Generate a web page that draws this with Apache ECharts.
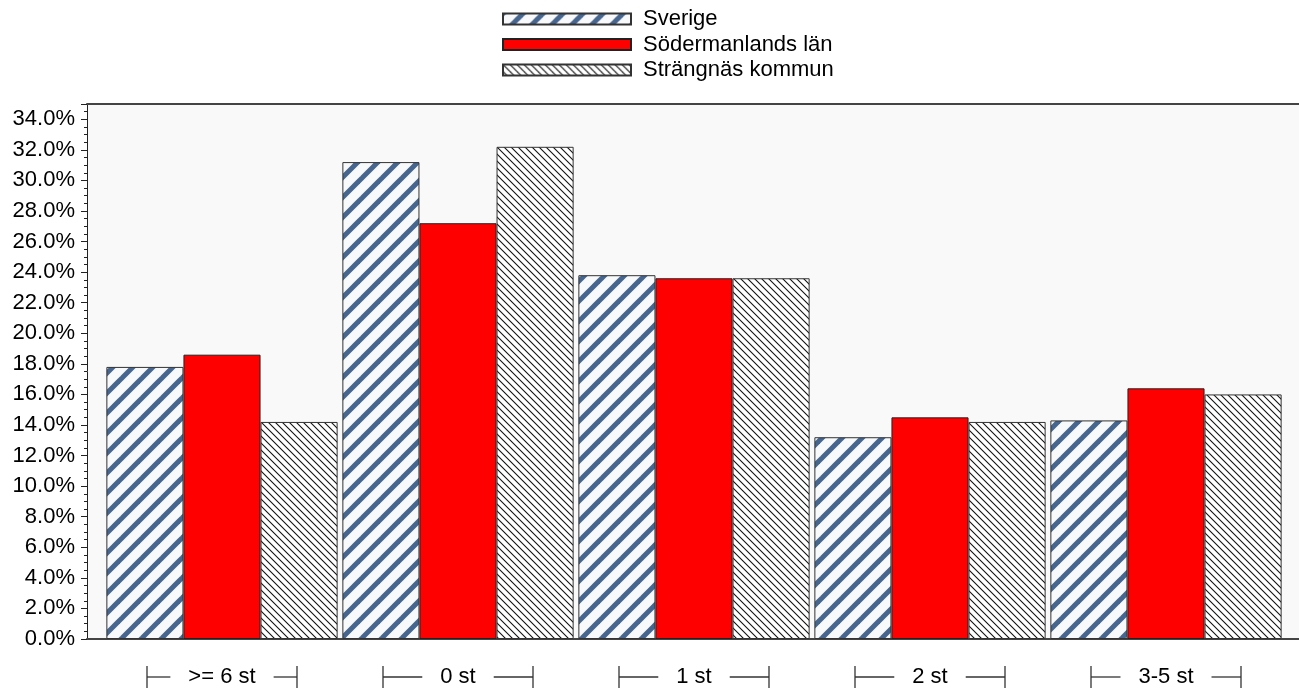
<!DOCTYPE html>
<html>
<head>
<meta charset="utf-8">
<script src="https://cdn.jsdelivr.net/npm/echarts@6/dist/echarts.min.js"></script>
<style>
  html, body { margin: 0; padding: 0; background: #fff; }
  #chart { width: 1299px; height: 692px; }
</style>
</head>
<body>
<div id="chart"></div>
<script>
// data
var categories = ['>= 6 st', '0 st', '1 st', '2 st', '3-5 st'];
var seriesNames = ['Sverige', 'Södermanlands län', 'Strängnäs kommun'];
var sverige = [17.8, 31.2, 23.8, 13.2, 14.3];
var sodermanland = [18.6, 27.2, 23.6, 14.5, 16.4];
var strangnas = [14.2, 32.2, 23.6, 14.2, 16.0];

var FONT = '"Liberation Sans", Arial, sans-serif';
var FS = 22;

// hatch patterns
function stripePattern() {
  var s = 20;
  var c = document.createElement('canvas');
  c.width = s; c.height = s;
  var ctx = c.getContext('2d');
  ctx.fillStyle = '#f8f9fb';
  ctx.fillRect(0, 0, s, s);
  ctx.strokeStyle = '#46668f';
  ctx.lineWidth = 5;
  for (var k = -1; k <= 1; k++) {
    ctx.beginPath();
    ctx.moveTo(k * s - s, 2 * s);
    ctx.lineTo(k * s + 2 * s, -s);
    ctx.stroke();
  }
  return c;
}
function hatchPattern() {
  var s = 7;
  var c = document.createElement('canvas');
  c.width = s; c.height = s;
  var ctx = c.getContext('2d');
  ctx.fillStyle = '#ffffff';
  ctx.fillRect(0, 0, s, s);
  ctx.strokeStyle = '#111';
  ctx.lineWidth = 1.1;
  for (var k = -1; k <= 1; k++) {
    ctx.beginPath();
    ctx.moveTo(k * s - s, -s);
    ctx.lineTo(k * s + 2 * s, 2 * s);
    ctx.stroke();
  }
  return c;
}

var measure = document.createElement('canvas').getContext('2d');
measure.font = FS + 'px ' + FONT;

function renderBracket(params, api) {
  var idx = api.value(0);
  var p = api.coord([idx, 0]);
  var cx = p[0];
  var y = p[1] + 38;
  var half = 75;
  var tw = measure.measureText(categories[idx]).width / 2 + 18;
  var st = { stroke: '#333', lineWidth: 1.3 };
  return {
    type: 'group',
    children: [
      { type: 'line', shape: { x1: cx - half, y1: y - 11, x2: cx - half, y2: y + 11 }, style: st },
      { type: 'line', shape: { x1: cx - half, y1: y, x2: cx - tw, y2: y }, style: st },
      { type: 'line', shape: { x1: cx + tw, y1: y, x2: cx + half, y2: y }, style: st },
      { type: 'line', shape: { x1: cx + half, y1: y - 11, x2: cx + half, y2: y + 11 }, style: st }
    ]
  };
}

var chart = echarts.init(document.getElementById('chart'));

var option = {
  animation: false,
  textStyle: { fontFamily: FONT },
  legend: {
    orient: 'vertical',
    left: 497,
    top: 2,
    itemWidth: 128,
    itemHeight: 11,
    itemGap: 1.5,
    icon: 'rect',
    textStyle: { fontSize: FS, color: '#000', fontFamily: FONT, lineHeight: 24, padding: [0, 0, 0, 7] },
    data: seriesNames
  },
  grid: [
    { left: 87, right: 0, top: 104, bottom: 53, show: true, backgroundColor: '#f9f9f9', borderWidth: 0 },
    { left: 104, right: 15, top: 104, bottom: 53 }
  ],
  xAxis: [
    {
      gridIndex: 0, type: 'value', min: 0, max: 1, position: 'bottom',
      axisLine: { show: true, lineStyle: { color: '#444', width: 2 } },
      axisTick: { show: false }, axisLabel: { show: false }, splitLine: { show: false }
    },
    {
      gridIndex: 0, type: 'value', min: 0, max: 1, position: 'top',
      axisLine: { show: true, lineStyle: { color: '#444', width: 2 } },
      axisTick: { show: false }, axisLabel: { show: false }, splitLine: { show: false }
    },
    {
      gridIndex: 1, type: 'category', data: categories,
      axisLine: { show: false }, axisTick: { show: false },
      axisLabel: { fontSize: FS, color: '#000', margin: 27, fontFamily: FONT }
    }
  ],
  yAxis: [
    {
      gridIndex: 0, type: 'value', min: 0, max: 35, interval: 2,
      axisLine: { show: true, lineStyle: { color: '#222', width: 1 } },
      axisTick: { show: true, length: 6, lineStyle: { color: '#222' } },
      minorTick: { show: true, splitNumber: 4, length: 3, lineStyle: { color: '#222' } },
      splitLine: { show: false },
      axisLabel: {
        fontSize: FS, color: '#000', margin: 12, fontFamily: FONT, showMaxLabel: false,
        formatter: function (v) { return v.toFixed(1) + '%'; }
      }
    },
    {
      gridIndex: 1, type: 'value', min: 0, max: 35, show: false
    }
  ],
  series: [
    {
      name: seriesNames[0], type: 'bar', xAxisIndex: 2, yAxisIndex: 1,
      data: sverige, barGap: '0%', barCategoryGap: '2%',
      itemStyle: { color: { image: stripePattern(), repeat: 'repeat' }, borderColor: '#333', borderWidth: 1 }
    },
    {
      name: seriesNames[1], type: 'bar', xAxisIndex: 2, yAxisIndex: 1,
      data: sodermanland, barGap: '0%', barCategoryGap: '2%',
      itemStyle: { color: '#ff0000', borderColor: '#222', borderWidth: 1 }
    },
    {
      name: seriesNames[2], type: 'bar', xAxisIndex: 2, yAxisIndex: 1,
      data: strangnas, barGap: '0%', barCategoryGap: '2%',
      itemStyle: { color: { image: hatchPattern(), repeat: 'repeat' }, borderColor: '#333', borderWidth: 1 }
    },
    {
      type: 'custom', xAxisIndex: 2, yAxisIndex: 1, silent: true, clip: false,
      renderItem: renderBracket,
      data: categories.map(function (c, i) { return [i, 0]; }),
      z: 5
    }
  ]
};

chart.setOption(option);
</script>
</body>
</html>
